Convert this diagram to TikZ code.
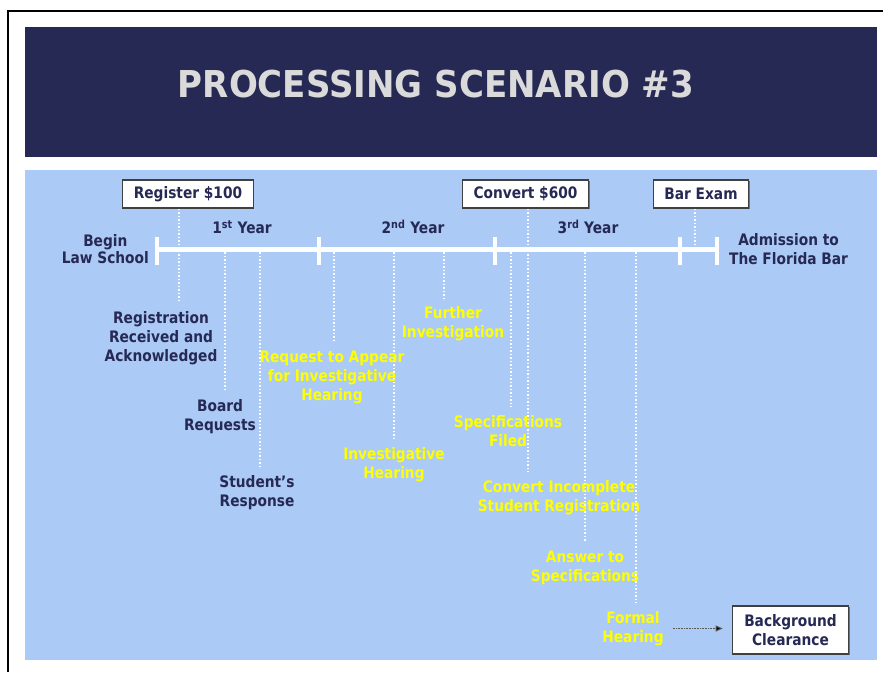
\documentclass[tikz,border=0pt]{standalone}
\usepackage{fontspec}
\setmainfont{DejaVu Sans}[FakeStretch=0.87]
\newfontfamily\titlefont{DejaVu Sans}[FakeStretch=0.92]
\usetikzlibrary{positioning,arrows.meta,shadows,backgrounds}
\definecolor{navy}{RGB}{38,41,84}
\definecolor{panel}{RGB}{171,202,246}
\definecolor{hiyellow}{RGB}{255,255,0}
\definecolor{titlegray}{RGB}{218,218,218}

\begin{document}
\begin{tikzpicture}[
    x=1pt, y=-1pt,
    font=\fontsize{15.8}{19}\selectfont\bfseries,
    lbl/.style={text=navy, align=center, inner sep=2pt},
    hot/.style={text=hiyellow, align=center, inner sep=2pt},
    milestone/.style={draw=black!75, line width=1.1pt, fill=white, text=navy,
      align=center, minimum height=28pt, inner xsep=11pt, inner ysep=0pt,
      drop shadow={shadow xshift=1pt, shadow yshift=-1pt, fill=black!55, opacity=1}},
    bar/.style={white, line width=5pt},
    tickmark/.style={white, line width=4pt},
    dots/.style={white, line width=1.5pt, dash pattern=on 1.5pt off 2pt, shorten >=6.5pt},
    pointer/.style={black!65, line width=1pt, dash pattern=on 1pt off 0.6pt,
      -{Triangle[length=7pt, width=6pt, fill=black]}, shorten <=7pt, shorten >=9pt},
  ]
  \useasboundingbox (0,0) rectangle (883,672);

  \node[font=\titlefont\fontsize{37}{40}\selectfont\bfseries, text=titlegray] (title) at (436,84) {PROCESSING SCENARIO \#3};

  % timeline
  \coordinate (start) at (157,249);
  \coordinate (finish) at (717,249);
  \node[lbl, left=6pt of start, font=\fontsize{15.8}{17}\selectfont\bfseries] (begin) {Begin\\Law School};
  \node[lbl, right=10pt of finish] (admit) {Admission to\\The Florida Bar};
  \node[lbl] (yr1) at (242,227) {1\textsuperscript{st} Year};
  \node[lbl] (yr2) at (413,227) {2\textsuperscript{nd} Year};
  \node[lbl] (yr3) at (588,227) {3\textsuperscript{rd} Year};

  \node[milestone] (reg) at (188,194) {Register \$100};
  \node[milestone] (conv) at (525.5,194) {Convert \$600};
  \node[milestone] (exam) at (701,194) {Bar Exam};

  % steps below the line
  \node[lbl] (rra) at (161,338) {Registration\\Received and\\Acknowledged};
  \node[lbl] (board) at (220,416.5) {Board\\Requests};
  \node[lbl] (resp) at (257,492.5) {Student’s\\Response};
  \node[hot] (req) at (332,377) {Request to Appear\\for Investigative\\Hearing};
  \node[hot] (ihear) at (394,465) {Investigative\\Hearing};
  \node[hot] (further) at (453,323.5) {Further\\Investigation};
  \node[hot] (spec) at (508,431.5) {Specifications\\Filed};
  \node[hot] (cisr) at (559,497.5) {Convert Incomplete\\Student Registration};
  \node[hot] (answer) at (585,567.5) {Answer to\\Specifications};
  \node[hot] (formal) at (633,628.5) {Formal\\Hearing};
  \node[milestone, minimum height=48pt, inner xsep=12pt] (clear) at (790.5,630) {Background\\Clearance};

  \draw[pointer] (formal.east) -- (formal.east -| clear.west);

  \begin{pgfonlayer}{background}
    \fill[navy] (25,27) rectangle (877,157);
    \fill[panel] (25,170) rectangle (877,660);
    \draw[line width=2.5pt] (8,672) |- (883,11);

    \draw[bar] (start) -- (finish);
    \foreach \x in {157,319,495,680,717}
      \draw[tickmark] (\x,237) -- (\x,265);

    \foreach \x/\n in {225/board, 260/resp, 334/req, 394/ihear, 444/further,
                       511/spec, 585/answer, 636/formal} {
      \coordinate (c) at (\x,252);
      \draw[dots] (c) -- (c |- \n.north);
    }
    \coordinate (c) at (179,249);
    \draw[dots] (reg.south -| c) -- (c |- rra.north);
    \coordinate (c) at (528,249);
    \draw[dots] (conv.south -| c) -- (c |- cisr.north);
    \coordinate (c) at (695,249);
    \draw[dots, shorten >=2pt] (exam.south -| c) -- (c);
  \end{pgfonlayer}

\end{tikzpicture}
\end{document}
